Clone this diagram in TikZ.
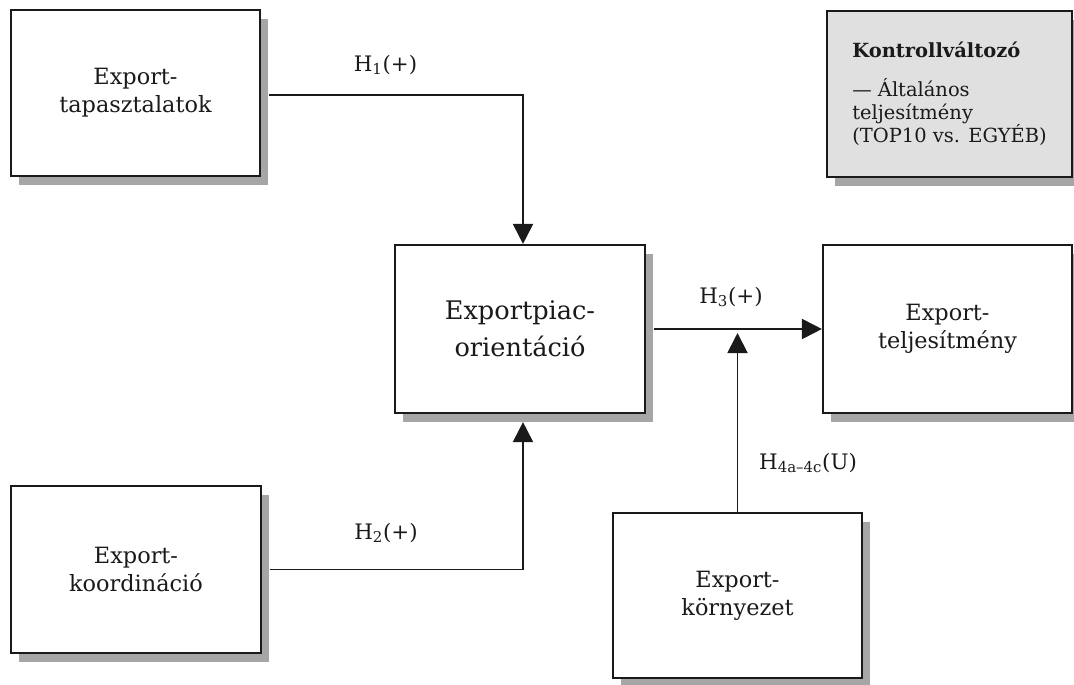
\documentclass[tikz,border=0pt]{standalone}
\usepackage{fontspec}
\setmainfont{DejaVu Serif}
\usetikzlibrary{arrows.meta,shadows}
\definecolor{ink}{HTML}{1A1A1A}
\definecolor{shade}{HTML}{A6A6A6}
\definecolor{ctrlfill}{HTML}{E0E0E0}
\begin{document}
\begin{tikzpicture}[x=0.75pt,y=-0.75pt,
  box/.style={draw=ink, line width=1.6pt, fill=white, align=center, text=ink,
    drop shadow={shadow xshift=6pt,shadow yshift=-6.75pt,fill=shade,opacity=1},
    font=\fontsize{16.8}{21}\selectfont, inner sep=0pt},
  bigbox/.style={box, font=\fontsize{19.2}{27.75}\selectfont},
  arr/.style={draw=ink, line width=1.4pt, -{Triangle[length=15pt,width=15pt]}},
  hlabel/.style={text=ink, font=\fontsize{16}{19}\selectfont, inner sep=0pt}]
\useasboundingbox (0,0) rectangle (1074,685);

\node[box, minimum width=186.75pt, minimum height=124.5pt] (tap) at (135.5,93) {Export-\\tapasztalatok};
\node[box, minimum width=187.5pt, minimum height=125.25pt] (koord) at (136,569.5) {Export-\\koordináció};
\node[bigbox, minimum width=187.5pt, minimum height=126pt] (epo) at (520,329) {Exportpiac-\\orientáció};
\node[box, minimum width=186.75pt, minimum height=126pt] (telj) at (947.5,329) {Export-\\teljesítmény};
\node[box, minimum width=186.75pt, minimum height=123.75pt] (korny) at (737.5,595.5) {Export-\\környezet};
\node[box, fill=ctrlfill, align=left, font=\fontsize{14.6}{17.25}\selectfont,
  minimum width=183.75pt, minimum height=124.5pt] (ctrl) at (949.5,94)
  {\textbf{Kontrollváltozó}\\[12pt] — Általános\\ teljesítmény\\ (TOP10 vs. EGYÉB)};

\draw[arr] ([xshift=6pt,yshift=-1.5pt]tap.east) -| ([xshift=2.25pt]epo.north);
\draw[arr] ([xshift=6pt]koord.east) -| ([xshift=2.25pt,yshift=-6pt]epo.south);
\draw[arr] ([xshift=6pt]epo.east) -- (telj.west);
\coordinate (meet) at (736,333);
\draw[arr] (korny.north) -- (korny.north |- meet);

\node[hlabel] (l1) at (385.5,65) {H\textsubscript{1}(+)};
\node[hlabel] (l2) at (386,533) {H\textsubscript{2}(+)};
\node[hlabel] (l3) at (731,297) {H\textsubscript{3}(+)};
\node[hlabel] (l4) at (808,463) {H\textsubscript{4a–4c}(U)};
\end{tikzpicture}
\end{document}
